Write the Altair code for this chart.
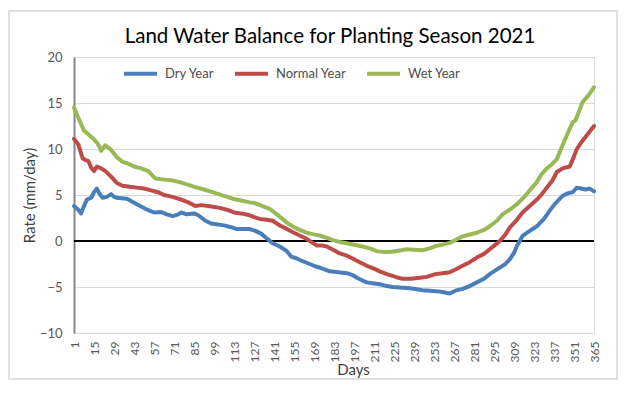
import altair as alt
import pandas as pd

# ---- data ----
days_dry = [1, 4, 6, 8, 10, 13, 15, 17, 19, 21, 24, 27, 29, 31, 38, 45, 51, 57, 62, 66,
            70, 74, 76, 80, 85, 88, 93, 97, 106, 111, 115, 120, 124, 128, 132, 135, 140, 145,
            150, 153, 157, 161, 166, 171, 175, 180, 186, 192, 196, 199, 203, 206, 210, 215,
            220, 224, 229, 234, 239, 243, 245, 250, 254, 259, 264, 268, 273, 278, 283, 288,
            292, 296, 299, 303, 306, 309, 311, 313, 315, 320, 325, 330, 334, 338, 343, 347,
            350, 353, 356, 359, 362, 365]
dry = [3.8, 3.4, 3.0, 3.8, 4.5, 4.7, 5.3, 5.7, 5.1, 4.7, 4.8, 5.1, 4.8, 4.7, 4.6, 4.0, 3.5,
       3.1, 3.15, 2.9, 2.7, 2.9, 3.1, 2.9, 3.0, 2.8, 2.2, 1.9, 1.7, 1.5, 1.3, 1.3, 1.3, 1.1,
       0.8, 0.4, -0.25, -0.6, -1.1, -1.7, -1.9, -2.2, -2.5, -2.8, -3.0, -3.3, -3.4, -3.5,
       -3.7, -4.0, -4.3, -4.5, -4.6, -4.7, -4.9, -5.0, -5.05, -5.1, -5.2, -5.3, -5.35, -5.4,
       -5.45, -5.55, -5.7, -5.4, -5.2, -4.9, -4.5, -4.1, -3.6, -3.2, -2.9, -2.5, -2.0, -1.3,
       -0.55, 0.0, 0.55, 1.1, 1.6, 2.4, 3.3, 4.1, 4.9, 5.2, 5.3, 5.8, 5.7, 5.6, 5.7, 5.4]

days_normal = [1, 4, 7, 9, 11, 13, 15, 17, 20, 23, 27, 31, 35, 40, 45, 50, 55, 60, 64, 70,
               76, 81, 86, 90, 95, 103, 108, 113, 118, 124, 127, 131, 136, 140, 145, 150,
               155, 159, 163, 167, 171, 175, 178, 183, 187, 192, 196, 201, 206, 211, 215,
               220, 224, 228, 231, 237, 243, 248, 254, 259, 264, 268, 273, 278, 283, 288,
               292, 296, 299, 303, 306, 311, 315, 320, 325, 328, 332, 336, 339, 343, 348,
               351, 353, 356, 360, 365]
normal = [11.1, 10.5, 9.0, 8.8, 8.7, 8.0, 7.6, 8.1, 7.9, 7.6, 7.0, 6.3, 6.0, 5.9, 5.8, 5.7,
          5.5, 5.3, 5.0, 4.8, 4.5, 4.2, 3.8, 3.9, 3.8, 3.6, 3.4, 3.1, 3.0, 2.8, 2.6, 2.4, 2.3,
          2.2, 1.7, 1.3, 0.9, 0.6, 0.3, -0.1, -0.5, -0.5, -0.6, -1.0, -1.35, -1.6, -1.9, -2.3,
          -2.7, -3.0, -3.3, -3.6, -3.8, -4.0, -4.1, -4.1, -4.0, -3.9, -3.6, -3.5, -3.4, -3.1,
          -2.7, -2.3, -1.8, -1.4, -0.9, -0.4, 0.0, 0.7, 1.45, 2.3, 3.1, 3.8, 4.5, 5.0, 5.8,
          6.6, 7.5, 7.9, 8.1, 9.2, 10.0, 10.7, 11.5, 12.5]

days_wet = [1, 4, 8, 11, 14, 17, 19, 20, 23, 27, 31, 35, 39, 43, 48, 53, 56, 58, 63, 69, 75,
            81, 86, 92, 99, 106, 112, 118, 124, 128, 133, 138, 143, 147, 150, 154, 159, 164,
            168, 173, 178, 182, 187, 192, 197, 203, 208, 213, 218, 222, 228, 234, 239, 245,
            250, 254, 259, 264, 268, 273, 278, 283, 288, 292, 297, 301, 306, 311, 315, 318,
            321, 325, 328, 332, 336, 339, 343, 346, 348, 350, 352, 355, 357, 361, 365]
wet = [14.5, 13.4, 12.0, 11.6, 11.2, 10.7, 10.2, 9.8, 10.4, 9.9, 9.1, 8.6, 8.4, 8.1, 7.9,
       7.6, 7.1, 6.8, 6.7, 6.6, 6.4, 6.1, 5.85, 5.6, 5.25, 4.9, 4.6, 4.4, 4.2, 4.1, 3.8, 3.5,
       2.9, 2.4, 2.0, 1.6, 1.2, 0.9, 0.75, 0.6, 0.35, 0.1, -0.1, -0.25, -0.4, -0.6, -0.8,
       -1.1, -1.2, -1.2, -1.05, -0.9, -0.95, -1.0, -0.8, -0.55, -0.4, -0.2, 0.1, 0.5, 0.7,
       0.9, 1.2, 1.6, 2.2, 2.9, 3.4, 4.0, 4.6, 5.1, 5.7, 6.4, 7.2, 7.9, 8.4, 8.9, 10.4, 11.5,
       12.2, 12.9, 13.1, 14.3, 15.1, 15.8, 16.7]

series_names = ["Dry Year", "Normal Year", "Wet Year"]
series_colors = ["#4A7EBB", "#BE4B48", "#98B954"]
x_tick_values = [1, 15, 29, 43, 57, 71, 85, 99, 113, 127, 141, 155, 169, 183, 197, 211,
                 225, 239, 253, 267, 281, 295, 309, 323, 337, 351, 365]
y_tick_values = [-10, -5, 0, 5, 10, 15, 20]

rows = []
for name, ds, vs in zip(series_names, [days_dry, days_normal, days_wet], [dry, normal, wet]):
    for d, v in zip(ds, vs):
        rows.append({"Day": d, "Rate": v, "Series": name})
df = pd.DataFrame(rows)

FONT = "Lato"

x_enc = alt.X(
    "Day:Q",
    scale=alt.Scale(domain=[1, 365], nice=False, zero=False),
    axis=alt.Axis(
        values=x_tick_values, labelAngle=270, labelAlign="right", labelBaseline="middle",
        labelFontSize=12, labelColor="#595959", labelFont=FONT, labelPadding=8,
        ticks=False, domain=False, grid=False, labelOverlap=False, labelFlush=False,
        title="Days", titleFont=FONT, titleFontSize=15, titleFontWeight="normal",
        titleColor="#404040", titleX=279, titleY=36, titleAlign="center",
        titleBaseline="middle", titleAnchor="start",
    ),
)
y_enc = alt.Y(
    "Rate:Q",
    scale=alt.Scale(domain=[-10, 20], nice=False, zero=False),
    axis=alt.Axis(
        values=y_tick_values, grid=True, gridColor="#D9D9D9", gridWidth=1.2,
        ticks=False, domainColor="#868686", domainWidth=2,
        labelFontSize=13, labelColor="#595959", labelFont=FONT, labelPadding=12,
        title="Rate (mm/day)", titleFont=FONT, titleFontSize=15, titleFontWeight="normal",
        titleColor="#404040", titlePadding=2,
    ),
)

lines = alt.Chart(df).mark_line(strokeWidth=4, strokeJoin="round", strokeCap="round").encode(
    x=x_enc,
    y=y_enc,
    color=alt.Color(
        "Series:N",
        scale=alt.Scale(domain=series_names, range=series_colors),
        legend=alt.Legend(
            orient="none", legendX=48, legendY=-2, direction="horizontal", title=None,
            symbolType="stroke", symbolSize=1089, symbolStrokeWidth=4,
            labelFont=FONT, labelFontSize=13, labelColor="#4D4D4D", labelOffset=6,
            columnPadding=12,
        ),
    ),
)

zero = alt.Chart(pd.DataFrame({"z": [0]})).mark_rule(color="black", strokeWidth=2).encode(
    y=alt.Y(datum=0)
)

frame = alt.Chart(pd.DataFrame({"z": [0]})).mark_rect(
    fillOpacity=0, stroke="#D9D9D9", strokeWidth=1.5
).encode(
    x=alt.value(-65), x2=alt.value(543), y=alt.value(-46), y2=alt.value(322)
)

chart = alt.layer(frame, zero, lines).properties(
    width=520,
    height=276,
    autosize=alt.AutoSizeParams(type="none"),
    padding={"left": 66, "top": 49, "right": 24, "bottom": 47},
    title=alt.TitleParams(
        "Land Water Balance for Planting Season 2021", font=FONT, fontSize=20.5,
        fontWeight="normal", color="#000000", anchor="middle", frame="group",
        baseline="alphabetic", offset=-53, dx=-4,
    ),
).configure_view(stroke="#000000", strokeWidth=1.5).configure(background="white")

chart.save("out.html", embed_options={"renderer": "svg", "actions": False})
